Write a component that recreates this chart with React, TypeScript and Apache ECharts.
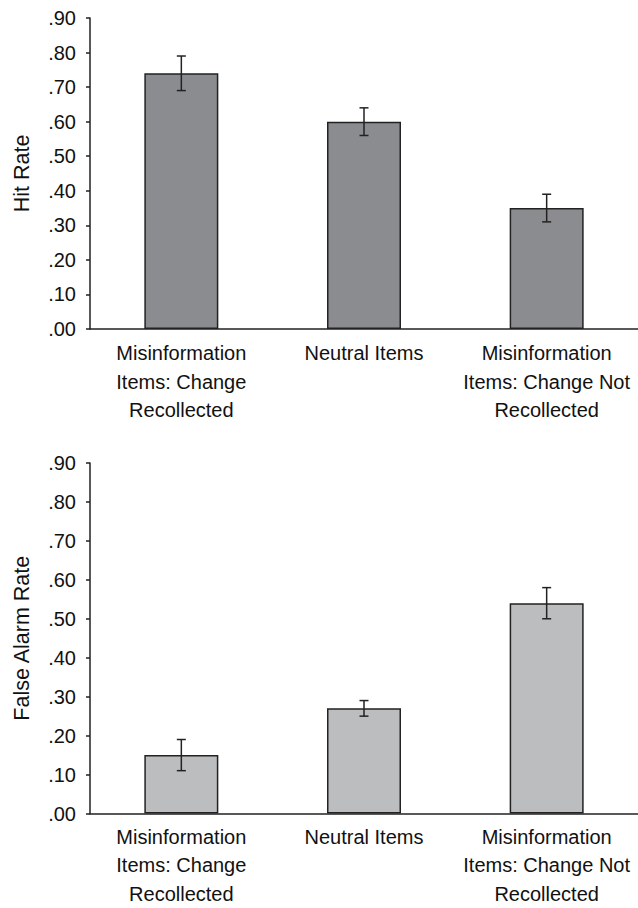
import React, { useEffect, useRef } from "react";
import * as echarts from "echarts";

const categories = [
  "Misinformation\nItems: Change\nRecollected",
  "Neutral Items",
  "Misinformation\nItems: Change Not\nRecollected",
];
const hitRate = [0.74, 0.6, 0.35];
const hitErr = [0.05, 0.04, 0.04];
const falseAlarm = [0.15, 0.27, 0.54];
const falseErr = [0.04, 0.02, 0.04];
const yTicks = [0, 0.1, 0.2, 0.3, 0.4, 0.5, 0.6, 0.7, 0.8, 0.9];
const topTitle = "Hit Rate";
const bottomTitle = "False Alarm Rate";

const FONT = "'Liberation Sans', Arial, Helvetica, sans-serif";

function fmt(v: number) {
  return "." + Math.round(v * 100).toString().padStart(2, "0");
}

function errData(vals: number[], errs: number[]) {
  return vals.map((v, i) => [i, v - errs[i], v + errs[i]]);
}

function errRender(params: any, api: any) {
  const i = api.value(0);
  const lo = api.coord([i, api.value(1)]);
  const hi = api.coord([i, api.value(2)]);
  const hw = 4.5;
  const style = { stroke: "#222", lineWidth: 1.5 };
  return {
    type: "group",
    children: [
      { type: "line", shape: { x1: lo[0], y1: lo[1], x2: hi[0], y2: hi[1] }, style },
      { type: "line", shape: { x1: lo[0] - hw, y1: lo[1], x2: lo[0] + hw, y2: lo[1] }, style },
      { type: "line", shape: { x1: hi[0] - hw, y1: hi[1], x2: hi[0] + hw, y2: hi[1] }, style },
    ],
  };
}

export default function App() {
  const ref = useRef<HTMLDivElement>(null);
  useEffect(() => {
    if (!ref.current) return;
    const chart = echarts.init(ref.current, null, { renderer: "svg" });
    const xAxisBase = (gridIndex: number, margin: number) => ({
      type: "category",
      gridIndex,
      data: categories,
      axisLine: { show: true, lineStyle: { color: "#222", width: 1.5 } },
      axisTick: { show: false },
      axisLabel: {
        color: "#111",
        fontFamily: FONT,
        fontSize: 20,
        lineHeight: 28.5,
        margin,
        interval: 0,
      },
    });
    const yAxisBase = (gridIndex: number, name: string, gap: number) => ({
      type: "value",
      gridIndex,
      min: yTicks[0],
      max: yTicks[yTicks.length - 1],
      interval: 0.1,
      name,
      nameLocation: "middle",
      nameGap: gap,
      nameTextStyle: { color: "#111", fontFamily: FONT, fontSize: 21.5 },
      axisLine: { show: true, lineStyle: { color: "#222", width: 1.5 } },
      axisTick: { show: true, length: 4, lineStyle: { color: "#222", width: 1.5 } },
      splitLine: { show: false },
      axisLabel: {
        color: "#111",
        fontFamily: FONT,
        fontSize: 20,
        margin: 14,
        formatter: (v: number) => fmt(v),
      },
    });
    chart.setOption({
      animation: false,
      backgroundColor: "#fff",
      grid: [
        { left: 90, top: 18, width: 552, height: 311 },
        { left: 90, top: 463, width: 552, height: 355 },
      ],
      xAxis: [xAxisBase(0, 10), xAxisBase(1, 9)],
      yAxis: [yAxisBase(0, topTitle, 57), yAxisBase(1, bottomTitle, 57)],
      series: [
        {
          type: "bar",
          xAxisIndex: 0,
          yAxisIndex: 0,
          data: hitRate,
          barWidth: 74,
          itemStyle: { color: "#8b8c8f", borderColor: "#222", borderWidth: 1.5 },
        },
        {
          type: "custom",
          xAxisIndex: 0,
          yAxisIndex: 0,
          data: errData(hitRate, hitErr),
          renderItem: errRender,
          encode: { x: 0, y: [1, 2] },
          z: 10,
        },
        {
          type: "bar",
          xAxisIndex: 1,
          yAxisIndex: 1,
          data: falseAlarm,
          barWidth: 74,
          itemStyle: { color: "#bcbdbf", borderColor: "#222", borderWidth: 1.5 },
        },
        {
          type: "custom",
          xAxisIndex: 1,
          yAxisIndex: 1,
          data: errData(falseAlarm, falseErr),
          renderItem: errRender,
          encode: { x: 0, y: [1, 2] },
          z: 10,
        },
      ],
    });
    return () => chart.dispose();
  }, []);
  return (
    <div
      ref={ref}
      style={{ position: "absolute", left: 0, top: 0, width: 638, height: 908, background: "#fff" }}
    />
  );
}
